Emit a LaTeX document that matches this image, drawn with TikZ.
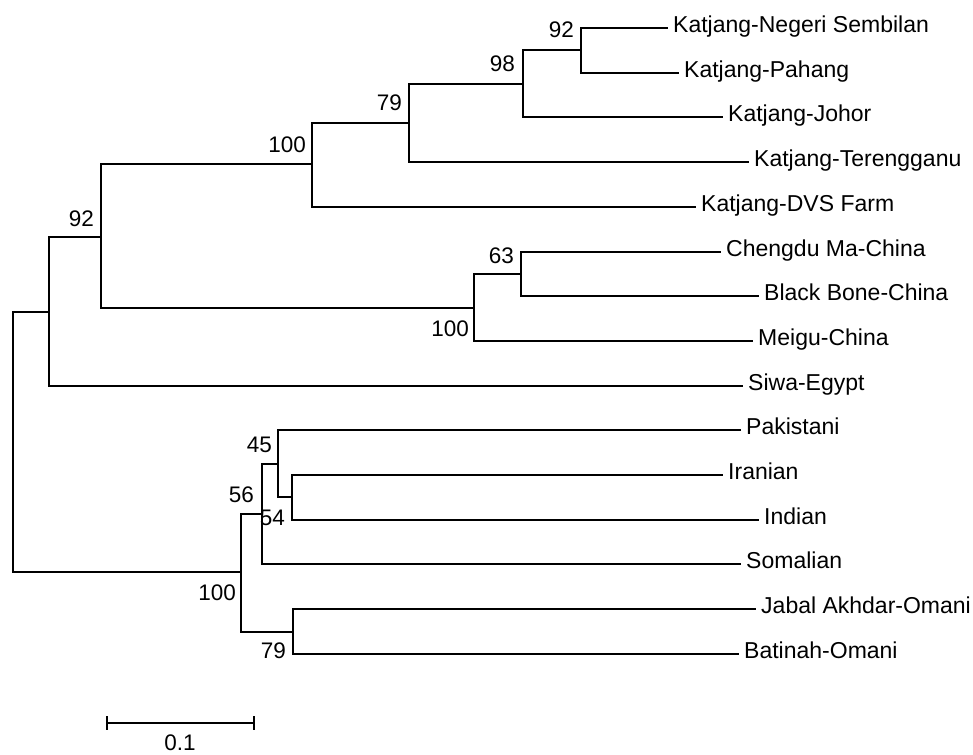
\documentclass[tikz,border=0pt]{standalone}
\usepackage{fontspec}
\setmainfont{Liberation Sans}
\usetikzlibrary{calc}
\tikzset{
  branch/.style={draw=black, line width=1.8pt, line join=miter, line cap=rect},
  leaf/.style={anchor=base west, inner sep=0pt, font=\fontsize{23}{27}\selectfont},
  supp/.style={anchor=base east, inner sep=0pt, font=\fontsize{22.5}{26}\selectfont},
}
\begin{document}
\begin{tikzpicture}[x=1pt,y=-1pt]
\useasboundingbox (0,0) rectangle (973,754);
% internal nodes
\coordinate (R) at (13,442);
\coordinate (A) at (49,312);
\coordinate (B) at (101,237);
\coordinate (C) at (312,164);
\coordinate (D) at (409,123);
\coordinate (E) at (523,84);
\coordinate (F) at (581,50);
\coordinate (H) at (474,308);
\coordinate (G) at (521,274);
\coordinate (I) at (241,572);
\coordinate (J) at (262,514);
\coordinate (K) at (278,464);
\coordinate (L) at (292,497);
\coordinate (M) at (293,632);
% leaf tips
\coordinate (tNS) at (667,28);
\coordinate (tPa) at (678,73);
\coordinate (tJo) at (722,117);
\coordinate (tTe) at (748,162);
\coordinate (tDV) at (695,207);
\coordinate (tCh) at (720,252);
\coordinate (tBB) at (758,296);
\coordinate (tMe) at (752,341);
\coordinate (tSi) at (742,386);
\coordinate (tPk) at (740,430);
\coordinate (tIr) at (722,475);
\coordinate (tIn) at (758,520);
\coordinate (tSo) at (740,564);
\coordinate (tJa) at (755,609);
\coordinate (tBa) at (738,654);
% leaf labels
\node[leaf] (NS) at ($(tNS)+(6,4.5)$) {Katjang-Negeri Sembilan};
\node[leaf] (Pa) at ($(tPa)+(6,4.5)$) {Katjang-Pahang};
\node[leaf] (Jo) at ($(tJo)+(6,4.5)$) {Katjang-Johor};
\node[leaf] (Te) at ($(tTe)+(6,4.5)$) {Katjang-Terengganu};
\node[leaf] (DV) at ($(tDV)+(6,4.5)$) {Katjang-DVS Farm};
\node[leaf] (Ch) at ($(tCh)+(6,4.5)$) {Chengdu Ma-China};
\node[leaf] (BB) at ($(tBB)+(6,4.5)$) {Black Bone-China};
\node[leaf] (Me) at ($(tMe)+(6,4.5)$) {Meigu-China};
\node[leaf] (Si) at ($(tSi)+(6,4.5)$) {Siwa-Egypt};
\node[leaf] (Pk) at ($(tPk)+(6,4.5)$) {Pakistani};
\node[leaf] (Ir) at ($(tIr)+(6,4.5)$) {Iranian};
\node[leaf] (In) at ($(tIn)+(6,4.5)$) {Indian};
\node[leaf] (So) at ($(tSo)+(6,4.5)$) {Somalian};
\node[leaf] (Ja) at ($(tJa)+(6,4.5)$) {Jabal Akhdar-Omani};
\node[leaf] (Ba) at ($(tBa)+(6,4.5)$) {Batinah-Omani};
% branches
\draw[branch] (R) |- (A);  \draw[branch] (R) |- (I);
\draw[branch] (A) |- (B);  \draw[branch] (A) |- (tSi);
\draw[branch] (B) |- (C);  \draw[branch] (B) |- (H);
\draw[branch] (C) |- (D);  \draw[branch] (C) |- (tDV);
\draw[branch] (D) |- (E);  \draw[branch] (D) |- (tTe);
\draw[branch] (E) |- (F);  \draw[branch] (E) |- (tJo);
\draw[branch] (F) |- (tNS); \draw[branch] (F) |- (tPa);
\draw[branch] (H) |- (G);  \draw[branch] (H) |- (tMe);
\draw[branch] (G) |- (tCh); \draw[branch] (G) |- (tBB);
\draw[branch] (I) |- (J);  \draw[branch] (I) |- (M);
\draw[branch] (J) |- (K);  \draw[branch] (J) |- (tSo);
\draw[branch] (K) |- (tPk); \draw[branch] (K) |- (L);
\draw[branch] (L) |- (tIr); \draw[branch] (L) |- (tIn);
\draw[branch] (M) |- (tJa); \draw[branch] (M) |- (tBa);
% support values
\node[supp] (sB) at (94,226) {92};
\node[supp] (sC) at (306,153) {100};
\node[supp] (sD) at (402,111) {79};
\node[supp] (sE) at (515,72) {98};
\node[supp] (sF) at (574,38) {92};
\node[supp] (sG) at (514,263) {63};
\node[supp] (sH) at (469,336) {100};
\node[supp] (sI) at (236,600) {100};
\node[supp] (sJ) at (254,502) {56};
\node[supp] (sK) at (272,452) {45};
\node[supp] (sL) at (285,525) {54};
\node[supp] (sM) at (286,658) {79};
% scale bar
\coordinate (sbL) at (107,723);
\coordinate (sbR) at (254,723);
\draw[branch, line cap=butt] (sbL) -- (sbR);
\draw[branch, line cap=butt] ($(sbL)+(0,-7)$) -- ($(sbL)+(0,7)$);
\draw[branch, line cap=butt] ($(sbR)+(0,-7)$) -- ($(sbR)+(0,7)$);
\node[anchor=base, inner sep=0pt, font=\fontsize{22.5}{26}\selectfont] (sbT) at (180,750) {0.1};
\end{tikzpicture}
\end{document}
